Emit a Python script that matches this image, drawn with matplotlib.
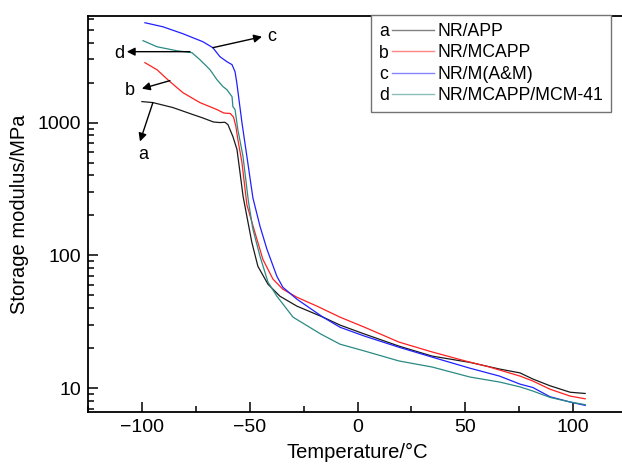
import numpy as np
import matplotlib
matplotlib.use('Agg')
import matplotlib.pyplot as plt
from matplotlib.ticker import MultipleLocator, LogLocator, NullFormatter
from matplotlib.legend_handler import HandlerBase
from matplotlib.lines import Line2D
from matplotlib.text import Text

plt.rcParams['font.family'] = ['Liberation Sans', 'DejaVu Sans']

# temperature (C) and storage modulus (MPa)
t_a = [-100, -94.9, -85.6, -76.3, -72.2, -66.8, -63.8, -61.5, -60.1, -57.8, -55.9, -54.5,
       -53.1, -51.3, -49.0, -46.2, -41.5, -36.0, -28.1, -16.0, -8.1, 3.3, 19.2, 34.6,
       52.2, 65.9, 75.4, 81.3, 89.3, 98.6, 105.6]
e_a = [1439, 1414, 1297, 1148, 1090, 1010, 1000, 1005, 966, 785, 627, 421,
       280, 196, 125, 82.6, 60.5, 49.2, 41.4, 34.2, 29.8, 25.5, 20.7, 17.4,
       15.6, 13.9, 13.0, 11.7, 10.4, 9.3, 9.1]

t_b = [-98.6, -93.0, -87.0, -81.0, -73.1, -65.2, -62.0, -59.0, -57.5, -56.4, -55.5, -53.6,
       -51.3, -47.6, -43.9, -39.2, -34.6, -28.1, -18.8, -8.1, 3.3, 19.2, 34.6, 50.0,
       61.2, 75.4, 81.3, 89.3, 98.6, 105.6]
e_b = [2826, 2500, 2034, 1681, 1414, 1253, 1180, 1170, 1100, 933, 745, 500,
       240, 149, 93.3, 66.1, 55.5, 48.3, 41.4, 34.2, 28.7, 22.2, 18.7, 16.0,
       14.4, 12.3, 11.3, 9.8, 8.7, 8.3]

t_c = [-98.6, -90.3, -81.0, -71.7, -67.1, -63.8, -60.6, -58.2, -56.8, -56.0, -55.0, -53.6,
       -51.3, -48.5, -45.2, -42.0, -37.4, -34.6, -28.1, -16.0, -8.1, 3.3, 19.2, 34.6,
       52.2, 65.9, 75.4, 81.3, 89.3, 98.6, 105.6]
e_c = [5650, 5270, 4670, 4063, 3665, 3134, 2876, 2731, 2416, 2000, 1500, 1000,
       555, 270, 165, 111, 69.5, 57.4, 46.7, 34.2, 28.7, 24.6, 20.3, 17.1,
       14.1, 12.3, 10.7, 10.1, 8.6, 7.85, 7.4]

t_d = [-99.5, -93.0, -83.8, -76.8, -73.1, -68.4, -65.2, -62.4, -60.6, -58.2, -57.8, -56.8,
       -55.5, -53.1, -50.6, -48.5, -45.2, -41.5, -37.4, -29.9, -17.0, -8.1, 3.3, 19.2,
       34.6, 52.2, 65.9, 75.4, 81.3, 89.3, 98.6, 105.6]
e_d = [4140, 3726, 3475, 3360, 2977, 2500, 2105, 1866, 1771, 1567, 1318, 1253,
       886, 555, 255, 157, 98, 62.7, 49.2, 34.2, 25.5, 21.4, 19.0, 16.0,
       14.4, 12.1, 11.1, 10.2, 9.5, 8.5, 7.85, 7.5]

letters = ['a', 'b', 'c', 'd']
names = ['NR/APP', 'NR/MCAPP', 'NR/M(A&M)', 'NR/MCAPP/MCM-41']
colors = ['#1a1a1a', '#ff2020', '#2020ff', '#2a8a84']

# arrow tail (on curve), arrow head, letter position
arrow_tail = [(-94.9, 1414), (-87.0, 2069), (-67.1, 3665), (-77.7, 3420)]
arrow_head = [(-100.9, 720), (-100.0, 1801), (-44.3, 4432), (-107.0, 3420)]
label_pos = [(-99.5, 575), (-105.6, 1750), (-39.6, 4480), (-110.7, 3300)]


class LetterLine(object):
    def __init__(self, letter, color):
        self.letter = letter
        self.color = color


class LetterLineHandler(HandlerBase):
    def create_artists(self, legend, orig_handle, xdescent, ydescent, width, height, fontsize, trans):
        y = height / 2 - ydescent
        txt = Text(-xdescent, y, orig_handle.letter, fontsize=fontsize, va='center_baseline',
                   ha='left', transform=trans, family=['Liberation Sans', 'DejaVu Sans'])
        ln = Line2D([-xdescent + fontsize * 0.72, -xdescent + width], [y, y],
                    color=orig_handle.color, lw=1.0, alpha=0.55, transform=trans)
        return [txt, ln]


fig = plt.figure(figsize=(6.22, 4.70), dpi=100)
ax = fig.add_axes([88 / 622, 1 - 412 / 470, (627 - 88) / 622, (412 - 16) / 470])

for t, e, c in zip([t_a, t_b, t_c, t_d], [e_a, e_b, e_c, e_d], colors):
    ax.plot(t, e, color=c, lw=0.9)

ax.set_yscale('log')
ax.set_xlim(-125, 125)
ax.set_ylim(6.6, 6350)

ax.xaxis.set_major_locator(MultipleLocator(50))
ax.xaxis.set_minor_locator(MultipleLocator(25))
ax.yaxis.set_major_locator(LogLocator(base=10))
ax.yaxis.set_minor_locator(LogLocator(base=10, subs=np.arange(2, 10)))
ax.yaxis.set_minor_formatter(NullFormatter())
ax.set_yticks([10, 100, 1000])
ax.set_yticklabels(['10', '100', '1000'])

ax.tick_params(which='both', direction='in', top=False, right=False, labelsize=14, width=1.1)
ax.tick_params(which='major', length=7, pad=5)
ax.tick_params(which='minor', length=4)
for s in ax.spines.values():
    s.set_linewidth(1.3)
ax.spines['right'].set_visible(False)

ax.set_xlabel('Temperature/°C', fontsize=14.5, labelpad=5)
ax.set_ylabel('Storage modulus/MPa', fontsize=14.5, labelpad=6)

for tail, head, pos, let in zip(arrow_tail, arrow_head, label_pos, letters):
    ax.annotate('', xy=head, xytext=tail,
                arrowprops=dict(arrowstyle='-|>', color='black', lw=1.0,
                                shrinkA=0, shrinkB=0, mutation_scale=12))
    ax.text(pos[0], pos[1], let, fontsize=13, ha='center', va='center')

handles = [LetterLine(l, c) for l, c in zip(letters, colors)]
leg = ax.legend(handles, names, handler_map={LetterLine: LetterLineHandler()},
                loc='upper right', bbox_to_anchor=(611 / 622, 1 - 15 / 470),
                bbox_transform=fig.transFigure, borderaxespad=0, fontsize=12.7,
                handlelength=3.1, handletextpad=0.2, labelspacing=0.25,
                borderpad=0.45, fancybox=False, framealpha=1, edgecolor='0.45')
leg.get_frame().set_linewidth(1.0)

fig.savefig('out.png', dpi=100)
